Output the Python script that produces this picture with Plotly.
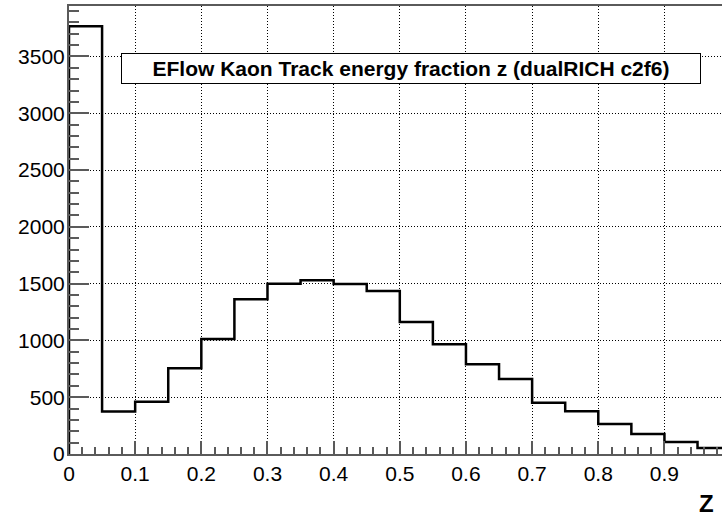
import plotly.graph_objects as go

# Histogram: EFlow kaon track energy fraction z, 20 bins on [0, 1]
bin_edges = [round(i * 0.05, 2) for i in range(21)]
counts = [3765, 375, 460, 754, 1012, 1362, 1499, 1529, 1497, 1435,
          1162, 966, 790, 660, 452, 376, 264, 176, 106, 53]

x_tick_vals = [0, 0.1, 0.2, 0.3, 0.4, 0.5, 0.6, 0.7, 0.8, 0.9]
x_tick_text = ["0", "0.1", "0.2", "0.3", "0.4", "0.5", "0.6", "0.7", "0.8", "0.9"]
y_tick_vals = [0, 500, 1000, 1500, 2000, 2500, 3000, 3500]
y_tick_text = ["0", "500", "1000", "1500", "2000", "2500", "3000", "3500"]

title_text = "EFlow Kaon Track energy fraction z (dualRICH c2f6)"
x_title = "Z"

# Step outline built from the bin edges (ROOT "hist" style)
step_x = [bin_edges[0]] + bin_edges[:-1] + [bin_edges[-1], bin_edges[-1]]
step_y = [0] + counts + [counts[-1], 0]

FONT = "Liberation Sans, Arial, Helvetica, sans-serif"
FRAME = "#5a5a5a"

fig = go.Figure()
fig.add_trace(go.Scatter(
    x=step_x, y=step_y, mode="lines",
    line=dict(color="black", width=2.5, shape="hv"),
    hoverinfo="skip", showlegend=False,
))

fig.update_layout(
    width=722, height=521,
    margin=dict(l=69, r=0, t=6, b=67),
    paper_bgcolor="white", plot_bgcolor="white",
    font=dict(family=FONT, size=21, color="black"),
    showlegend=False,
)

fig.update_xaxes(
    range=[0, 0.987],
    tickmode="array", tickvals=x_tick_vals, ticktext=x_tick_text,
    ticks="inside", ticklen=13, tickwidth=1.5, tickcolor=FRAME,
    minor=dict(dtick=0.02, ticks="inside", ticklen=7, tickwidth=1.5,
               tickcolor=FRAME, showgrid=False),
    showgrid=True, gridcolor="black", gridwidth=1, griddash="1px,2px",
    showline=True, linecolor=FRAME, linewidth=2, mirror=True,
    zeroline=False, tickfont=dict(size=21, family=FONT),
)
fig.update_yaxes(
    range=[0, 3944],
    tickmode="array", tickvals=y_tick_vals, ticktext=y_tick_text,
    ticks="inside", ticklen=20, tickwidth=1.5, tickcolor=FRAME,
    minor=dict(dtick=100, ticks="inside", ticklen=10, tickwidth=1.5,
               tickcolor=FRAME, showgrid=False),
    showgrid=True, gridcolor="black", gridwidth=1, griddash="1px,2px",
    showline=True, linecolor=FRAME, linewidth=2, mirror=False,
    zeroline=False, tickfont=dict(size=21, family=FONT),
    ticklabelstandoff=-2,
)

# Title box inside the frame
fig.add_annotation(
    x=0.5237, y=0.8605, xref="paper", yref="paper",
    xanchor="center", yanchor="middle",
    text="<b>" + title_text + "</b>", showarrow=False,
    font=dict(family=FONT, size=21, color="black"),
    bgcolor="white", bordercolor="black", borderwidth=1, borderpad=0,
    width=578, height=29,
)

# Axis title at the lower right
fig.add_annotation(
    x=0.9755, y=-0.1116, xref="paper", yref="paper",
    xanchor="center", yanchor="middle",
    text="<b>" + x_title + "</b>", showarrow=False,
    font=dict(family=FONT, size=24, color="black"),
    borderpad=0,
)

fig.write_html("out.html")
